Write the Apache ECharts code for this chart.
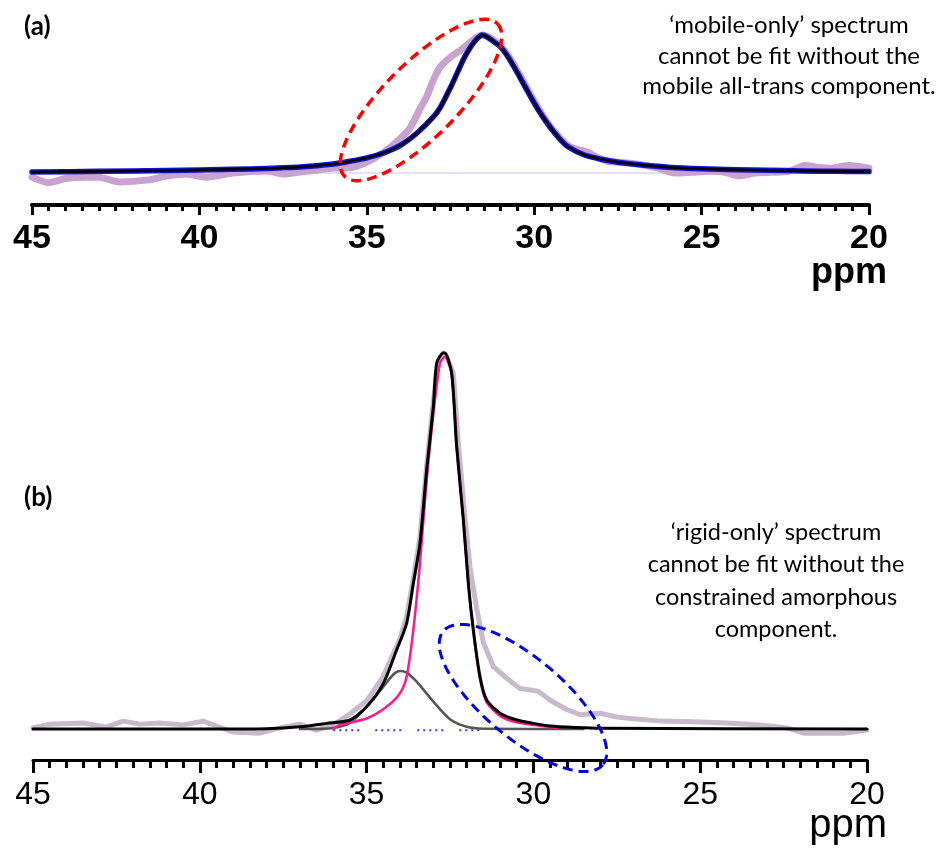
<!DOCTYPE html>
<html>
<head>
<meta charset="utf-8">
<script src="https://cdn.jsdelivr.net/npm/echarts@6/dist/echarts.min.js"></script>
<style>
html,body{margin:0;padding:0;background:#fff;}
#chart{width:944px;height:848px;}
</style>
</head>
<body>
<div id="chart"></div>
<script>
// x axis ticks (ppm)
const xTicks = [20, 25, 30, 35, 40, 45];

// Panel (a): 'mobile-only' spectrum, [ppm, intensity]
const aExperimental = [
  [45.0,-0.03],[44.5,-0.07],[44.0,-0.04],[43.4,-0.03],[43.0,-0.03],[42.4,-0.065],[41.5,-0.05],[41.0,-0.022],
  [40.4,-0.007],[39.8,-0.03],[39.0,0.0],[38.0,0.015],[37.5,-0.007],[37.0,0.007],[36.5,0.02],[36.0,0.036],
  [35.5,0.038],[35.0,0.08],[34.5,0.15],[34.0,0.25],[33.7,0.33],[33.4,0.47],[33.2,0.56],[33.0,0.68],
  [32.8,0.77],[32.5,0.84],[32.2,0.89],[31.9,0.95],[31.7,0.985],[31.55,1.0],[31.4,0.99],[31.2,0.96],
  [31.0,0.92],[30.75,0.84],[30.5,0.74],[30.25,0.63],[30.0,0.52],[29.75,0.42],[29.5,0.33],[29.25,0.26],
  [29.0,0.2],[28.7,0.17],[28.4,0.15],[28.1,0.11],[27.8,0.085],[27.3,0.075],[26.8,0.06],[26.3,0.035],
  [25.8,0.0],[25.3,0.005],[24.8,0.012],[24.3,0.005],[23.9,-0.02],[23.4,0.0],[22.9,0.005],[22.4,0.012],
  [21.9,0.055],[21.5,0.04],[21.1,0.035],[20.6,0.055],[20.0,0.035]
];
const aFit = [
  [45,0.007],[43,0.012],[41,0.018],[39,0.027],[38,0.033],[37,0.043],[36,0.065],[35.5,0.085],[35,0.11],
  [34.5,0.145],[34,0.2],[33.5,0.29],[33.0,0.41],[32.8,0.478],[32.5,0.62],[32.3,0.725],[32.1,0.83],
  [31.9,0.913],[31.7,0.975],[31.55,1.0],[31.4,0.985],[31.2,0.95],[31.0,0.913],[30.75,0.83],[30.5,0.725],
  [30.25,0.615],[30.0,0.507],[29.75,0.41],[29.5,0.325],[29.25,0.25],[29.0,0.192],[28.5,0.13],[28.0,0.1],
  [27.5,0.078],[27.0,0.063],[26.0,0.042],[25.0,0.03],[24.0,0.024],[23.0,0.02],[22.0,0.015],[21.0,0.012],[20,0.01]
];
const aBaseline = [[45,0],[20,0]];

// Panel (b): 'rigid-only' spectrum, [ppm, intensity]
const bExperimental = [
  [45.0,0.003],[44.5,0.013],[43.5,0.016],[42.8,0.005],[42.3,0.021],[41.8,0.013],[41.2,0.016],[40.5,0.011],
  [39.9,0.021],[39.5,0.008],[39.0,-0.008],[38.2,-0.011],[37.5,0.005],[37.0,0.013],[36.5,-0.003],[36.0,0.011],
  [35.5,0.04],[35.0,0.075],[34.5,0.14],[34.0,0.24],[33.8,0.3],[33.6,0.4],[33.4,0.51],[33.2,0.7],[33.0,0.87],
  [32.85,0.98],[32.7,1.0],[32.6,0.99],[32.4,0.946],[32.25,0.76],[32.05,0.56],[31.9,0.43],[31.7,0.32],
  [31.5,0.23],[31.2,0.166],[30.8,0.135],[30.4,0.108],[30.1,0.104],[29.85,0.1],[29.5,0.077],[29.0,0.052],
  [28.6,0.038],[28.0,0.042],[27.5,0.032],[27.0,0.027],[26.2,0.021],[25.2,0.019],[24.2,0.016],[23.2,0.011],
  [22.4,0.003],[21.9,-0.011],[21.2,-0.011],[20.7,-0.011],[20.0,-0.003]
];
const bFit = [
  [45,0],[40,0],[38,0.001],[37,0.006],[36.2,0.015],[35.5,0.024],[35.0,0.059],[34.5,0.121],[34.1,0.21],
  [33.8,0.281],[33.6,0.387],[33.4,0.494],[33.2,0.689],[33.0,0.857],[32.9,0.973],[32.7,1.0],[32.65,1.0],
  [32.45,0.946],[32.3,0.751],[32.1,0.556],[31.95,0.387],[31.8,0.263],[31.6,0.139],[31.4,0.077],[31.0,0.042],
  [30.5,0.024],[30.0,0.015],[29.5,0.008],[28.7,0.004],[28.0,0.002],[20,0.0]
];
const bRigid = [
  [36.0,0.0],[35.8,0.011],[35.0,0.028],[34.4,0.059],[34.0,0.095],[33.8,0.139],[33.6,0.263],[33.4,0.441],
  [33.2,0.662],[33.0,0.839],[32.8,0.973],[32.65,0.99],[32.45,0.946],[32.3,0.751],[32.1,0.556],[31.95,0.387],
  [31.8,0.259],[31.6,0.133],[31.4,0.071],[31.0,0.035],[30.5,0.018],[29.6,0.006],[29.3,0.003]
];
const bConstrained = [
  [37.0,0.0],[36.0,0.003],[35.5,0.016],[35.0,0.059],[34.5,0.112],[34.2,0.145],[34.0,0.154],[33.8,0.15],
  [33.5,0.126],[33.0,0.073],[32.5,0.026],[32.0,0.006],[31.5,0.001],[28.5,0.0]
];
const bMobile = [[36.0,-0.003],[31.6,-0.003]];

const chart = echarts.init(document.getElementById('chart'), null, {renderer:'canvas'});

function xAxis(gi, bold, fs, margin, lw, tlen, mlen) {
  return {
    type:'value', gridIndex:gi, inverse:true,
    min:xTicks[0], max:xTicks[xTicks.length-1], interval:xTicks[1]-xTicks[0],
    axisLine:{show:true, onZero:false, lineStyle:{color:'#000', width:lw}},
    axisTick:{show:true, inside:false, length:tlen, lineStyle:{color:'#000', width:3}},
    minorTick:{show:true, splitNumber:10, length:mlen, lineStyle:{color:'#000', width:3}},
    axisLabel:{show:true, color:'#000', fontFamily:'Liberation Sans', fontWeight: bold?'bold':'normal', fontSize:fs, margin:margin},
    splitLine:{show:false}, minorSplitLine:{show:false}
  };
}

function ellipsePts(cx, cy, a, b, deg) {
  const t = deg*Math.PI/180, pts=[];
  for (let i=0;i<=180;i++){
    const u = i/180*2*Math.PI;
    const ex = a*Math.cos(u), ey = b*Math.sin(u);
    pts.push([cx + ex*Math.cos(t) - ey*Math.sin(t), cy + ex*Math.sin(t) + ey*Math.cos(t)]);
  }
  return pts;
}

const line = (name, xi, data, color, width, z, extra) => Object.assign({
  name, type:'line', xAxisIndex:xi, yAxisIndex:xi, data, showSymbol:false, symbol:'none',
  smooth:0.25, clip:false, z, lineStyle:{color, width, cap:'round', join:'round'}, silent:true, animation:false
}, extra||{});

const txt = (x, y, text, font, lh, align) => ({
  type:'text', x, y, style:{text, font, fill:'#000', align:align||'center', verticalAlign:'middle',
  textAlign:align||'center', textVerticalAlign:'middle', lineHeight:lh}
});

const option = {
  animation:false,
  backgroundColor:'#fff',
  grid:[
    {left:32, width:837, top:35, height:170},
    {left:33, width:834, top:353, height:407}
  ],
  xAxis:[ xAxis(0,true,34,17,4,10,6), xAxis(1,false,32,19,3,13,8) ],
  yAxis:[
    {type:'value', gridIndex:0, min:-0.232, max:1, show:false, splitLine:{show:false}},
    {type:'value', gridIndex:1, min:-0.0824, max:1, show:false, splitLine:{show:false}}
  ],
  series:[
    line('baseline a',0,aBaseline,'#c4c4f2',1,1,{smooth:false}),
    line('mobile-only experimental',0,aExperimental,'#c9a2d2',7,2),
    line('fit outline',0,aFit,'#1010e0',5.5,3),
    line('fit',0,aFit,'#000',2.6,4),

    line('rigid-only experimental',1,bExperimental,'#c9b9cd',5,2,{smooth:false}),
    line('mobile component',1,bMobile,'#3a3aff',2,3,{smooth:false, lineStyle:{color:'#3a3aff', width:2, type:[2,4,2,4,2,4,2,4,2,16]}}),
    line('constrained amorphous',1,bConstrained,'#555',2.5,4),
    line('rigid',1,bRigid,'#ff1a8c',2.5,5),
    line('total fit',1,bFit,'#000',3,6)
  ],
  graphic:[
    txt(24, 27, '(a)', 'bold 26px Lato', 28, 'left'),
    txt(24, 498, '(b)', 'bold 26px Lato', 28, 'left'),
    txt(789, 56, '\u2018mobile-only\u2019 spectrum\ncannot be fit without the\nmobile all-trans component.', '24px Lato', 30.5),
    txt(776, 581, '\u2018rigid-only\u2019 spectrum\ncannot be fit without the\nconstrained amorphous\ncomponent.', '23.5px Lato', 32.3),
    txt(887, 273, 'ppm', 'bold 36px "Liberation Sans"', 40, 'right'),
    txt(887, 826, 'ppm', '40px "Liberation Sans"', 44, 'right'),
    {type:'polyline', z:100, shape:{points:ellipsePts(421,100,108,37,-45)}, style:{stroke:'#ff0000', lineWidth:3.5, lineDash:[10,6], fill:null}},
    {type:'polyline', z:100, shape:{points:ellipsePts(523,698,104,40,40)}, style:{stroke:'#0000e0', lineWidth:3, lineDash:[10,6], fill:null}}
  ]
};
chart.setOption(option);
</script>
</body>
</html>
